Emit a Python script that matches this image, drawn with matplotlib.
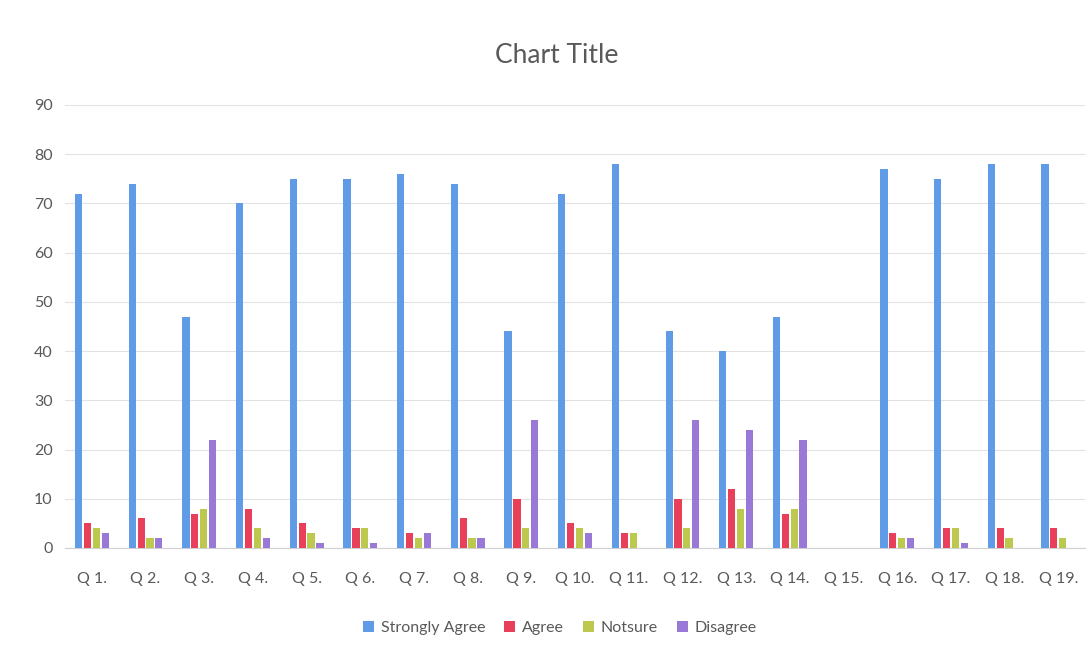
import numpy as np
import matplotlib.pyplot as plt

plt.rcParams['font.family'] = ['Lato', 'DejaVu Sans']

preguntas = ['Q 1.', 'Q 2.', 'Q 3.', 'Q 4.', 'Q 5.', 'Q 6.', 'Q 7.', 'Q 8.', 'Q 9.', 'Q 10.',
             'Q 11.', 'Q 12.', 'Q 13.', 'Q 14.', 'Q 15.', 'Q 16.', 'Q 17.', 'Q 18.', 'Q 19.']
strongly_agree = [72, 74, 47, 70, 75, 75, 76, 74, 44, 72, 78, 44, 40, 47, 0, 77, 75, 78, 78]
agree = [5, 6, 7, 8, 5, 4, 3, 6, 10, 5, 3, 10, 12, 7, 0, 3, 4, 4, 4]
notsure = [4, 2, 8, 4, 3, 4, 2, 2, 4, 4, 3, 4, 8, 8, 0, 2, 4, 2, 2]
disagree = [3, 2, 22, 2, 1, 1, 3, 2, 26, 3, 0, 26, 24, 22, 0, 2, 1, 0, 0]

series = [('Strongly Agree', strongly_agree, '#5f9be6'),
          ('Agree', agree, '#e8405a'),
          ('Notsure', notsure, '#bcc84e'),
          ('Disagree', disagree, '#9a78d8')]

fig = plt.figure(figsize=(10.91, 6.6), dpi=100)
ax = fig.add_axes([0.0596, 0.1697, 0.935, 0.6713])

x = np.arange(len(preguntas))
paso = 0.165
ancho = 0.135
for i, (nombre, valores, color) in enumerate(series):
    ax.bar(x + (i - 1.5) * paso, valores, width=ancho, color=color, label=nombre, zorder=3)

ax.set_xlim(-0.5, len(preguntas) - 0.5)
ax.set_ylim(0, 90)
ax.set_yticks(range(0, 91, 10))
ax.set_xticks(x)
ax.set_xticklabels(preguntas)
ax.grid(axis='y', color='#e2e2e2', linewidth=0.8, zorder=0)
for lado in ['top', 'right', 'left']:
    ax.spines[lado].set_visible(False)
ax.spines['bottom'].set_color('#d0d0d0')
ax.tick_params(axis='both', length=0, labelsize=11.5, colors='#595959')
ax.tick_params(axis='x', pad=17)
ax.tick_params(axis='y', pad=9)

fig.suptitle('Chart Title', x=0.51, y=0.935, fontsize=19, color='#595959')
fig.legend(loc='center', bbox_to_anchor=(0.513, 0.048), ncol=4, frameon=False,
           fontsize=11.5, handlelength=0.7, handleheight=0.7, handletextpad=0.4,
           columnspacing=1.2, labelcolor='#595959')

plt.savefig('out.png', dpi=100)
plt.close()
